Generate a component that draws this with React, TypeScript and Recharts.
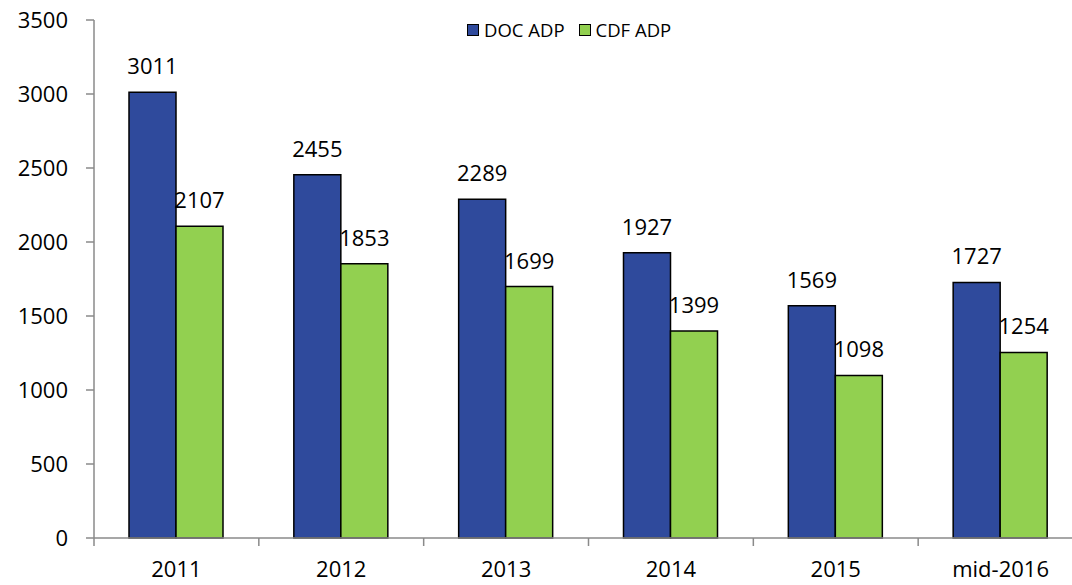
import React from 'react';
import { BarChart, Bar, XAxis, YAxis, LabelList, Legend } from 'recharts';

const categories = ['2011', '2012', '2013', '2014', '2015', 'mid-2016'];
const docAdp = [3011, 2455, 2289, 1927, 1569, 1727];
const cdfAdp = [2107, 1853, 1699, 1399, 1098, 1254];
const yTicks = [0, 500, 1000, 1500, 2000, 2500, 3000, 3500];
const seriesNames = ['DOC ADP', 'CDF ADP'];

const data = categories.map((c, i) => ({ name: c, doc: docAdp[i], cdf: cdfAdp[i] }));

const CHART_W = 1100;
const CHART_H = 585;
const Y_AXIS_W = 94;
const RIGHT_MARGIN = 17;
const TOP_MARGIN = 20;
const XAXIS_H = 47;
const BAND = (CHART_W - Y_AXIS_W - RIGHT_MARGIN) / categories.length;
const AXIS_GRAY = '#8a8a8a';
const FONT = '"Open Sans", sans-serif';
const FS = 22;
const BLUE = '#2F4A9C';
const GREEN = '#92D050';
const colors = [BLUE, GREEN];

const XTick = (props: any) => {
  const { x, y, payload, index } = props;
  const lineTop = y - 24;
  const lineBottom = y - 16;
  const left = x - BAND / 2;
  const right = x + BAND / 2;
  return (
    <g>
      <line x1={left} x2={left} y1={lineTop} y2={lineBottom} stroke={AXIS_GRAY} strokeWidth={1.5} />
      {index === categories.length - 1 && (
        <line x1={right} x2={right} y1={lineTop} y2={lineBottom} stroke={AXIS_GRAY} strokeWidth={1.5} />
      )}
      <text x={x} y={y} dy="0.68em" textAnchor="middle" fill="#000" fontSize={FS} fontFamily={FONT}>
        {payload.value}
      </text>
    </g>
  );
};

const LegendContent = () => (
  <div style={{ display: 'flex', alignItems: 'center', fontFamily: FONT, fontSize: 18.5, color: '#000' }}>
    {seriesNames.map((n, i) => (
      <div key={n} style={{ display: 'flex', alignItems: 'center', marginRight: 14 }}>
        <span
          style={{
            display: 'inline-block',
            width: 10,
            height: 10,
            background: colors[i],
            border: '1.5px solid #000',
            marginRight: 5,
          }}
        />
        <span>{n}</span>
      </div>
    ))}
  </div>
);

export default function App() {
  return (
    <div
      style={{
        position: 'absolute',
        left: 0,
        top: 0,
        width: 1072,
        height: 585,
        overflow: 'hidden',
        background: '#fff',
        fontFamily: FONT,
      }}
    >
      <BarChart
        width={CHART_W}
        height={CHART_H}
        data={data}
        margin={{ top: TOP_MARGIN, right: RIGHT_MARGIN, left: 0, bottom: 0 }}
        barCategoryGap={35}
        barGap={0}
      >
        <Legend
          layout="horizontal"
          verticalAlign="middle"
          align="center"
          content={<LegendContent />}
          wrapperStyle={{ position: 'absolute', top: 17, left: 467, width: 'auto', height: 'auto' }}
        />
        <XAxis
          dataKey="name"
          height={XAXIS_H}
          tickLine={false}
          tickSize={8}
          tickMargin={16}
          axisLine={{ stroke: AXIS_GRAY, strokeWidth: 1.5 }}
          tick={<XTick />}
          interval={0}
        />
        <YAxis
          width={Y_AXIS_W}
          domain={[0, 3500]}
          ticks={yTicks}
          interval={0}
          tickSize={8}
          tickMargin={18}
          axisLine={{ stroke: AXIS_GRAY, strokeWidth: 1.5 }}
          tickLine={{ stroke: AXIS_GRAY, strokeWidth: 1.5 }}
          tick={{ fill: '#000', fontSize: FS, fontFamily: FONT }}
        />
        <Bar dataKey="doc" name={seriesNames[0]} fill={BLUE} stroke="#000" strokeWidth={1.5} isAnimationActive={false}>
          <LabelList dataKey="doc" position="top" offset={18} fill="#000" fontSize={FS} fontFamily={FONT} />
        </Bar>
        <Bar dataKey="cdf" name={seriesNames[1]} fill={GREEN} stroke="#000" strokeWidth={1.5} isAnimationActive={false}>
          <LabelList dataKey="cdf" position="top" offset={18} fill="#000" fontSize={FS} fontFamily={FONT} />
        </Bar>
      </BarChart>
    </div>
  );
}
